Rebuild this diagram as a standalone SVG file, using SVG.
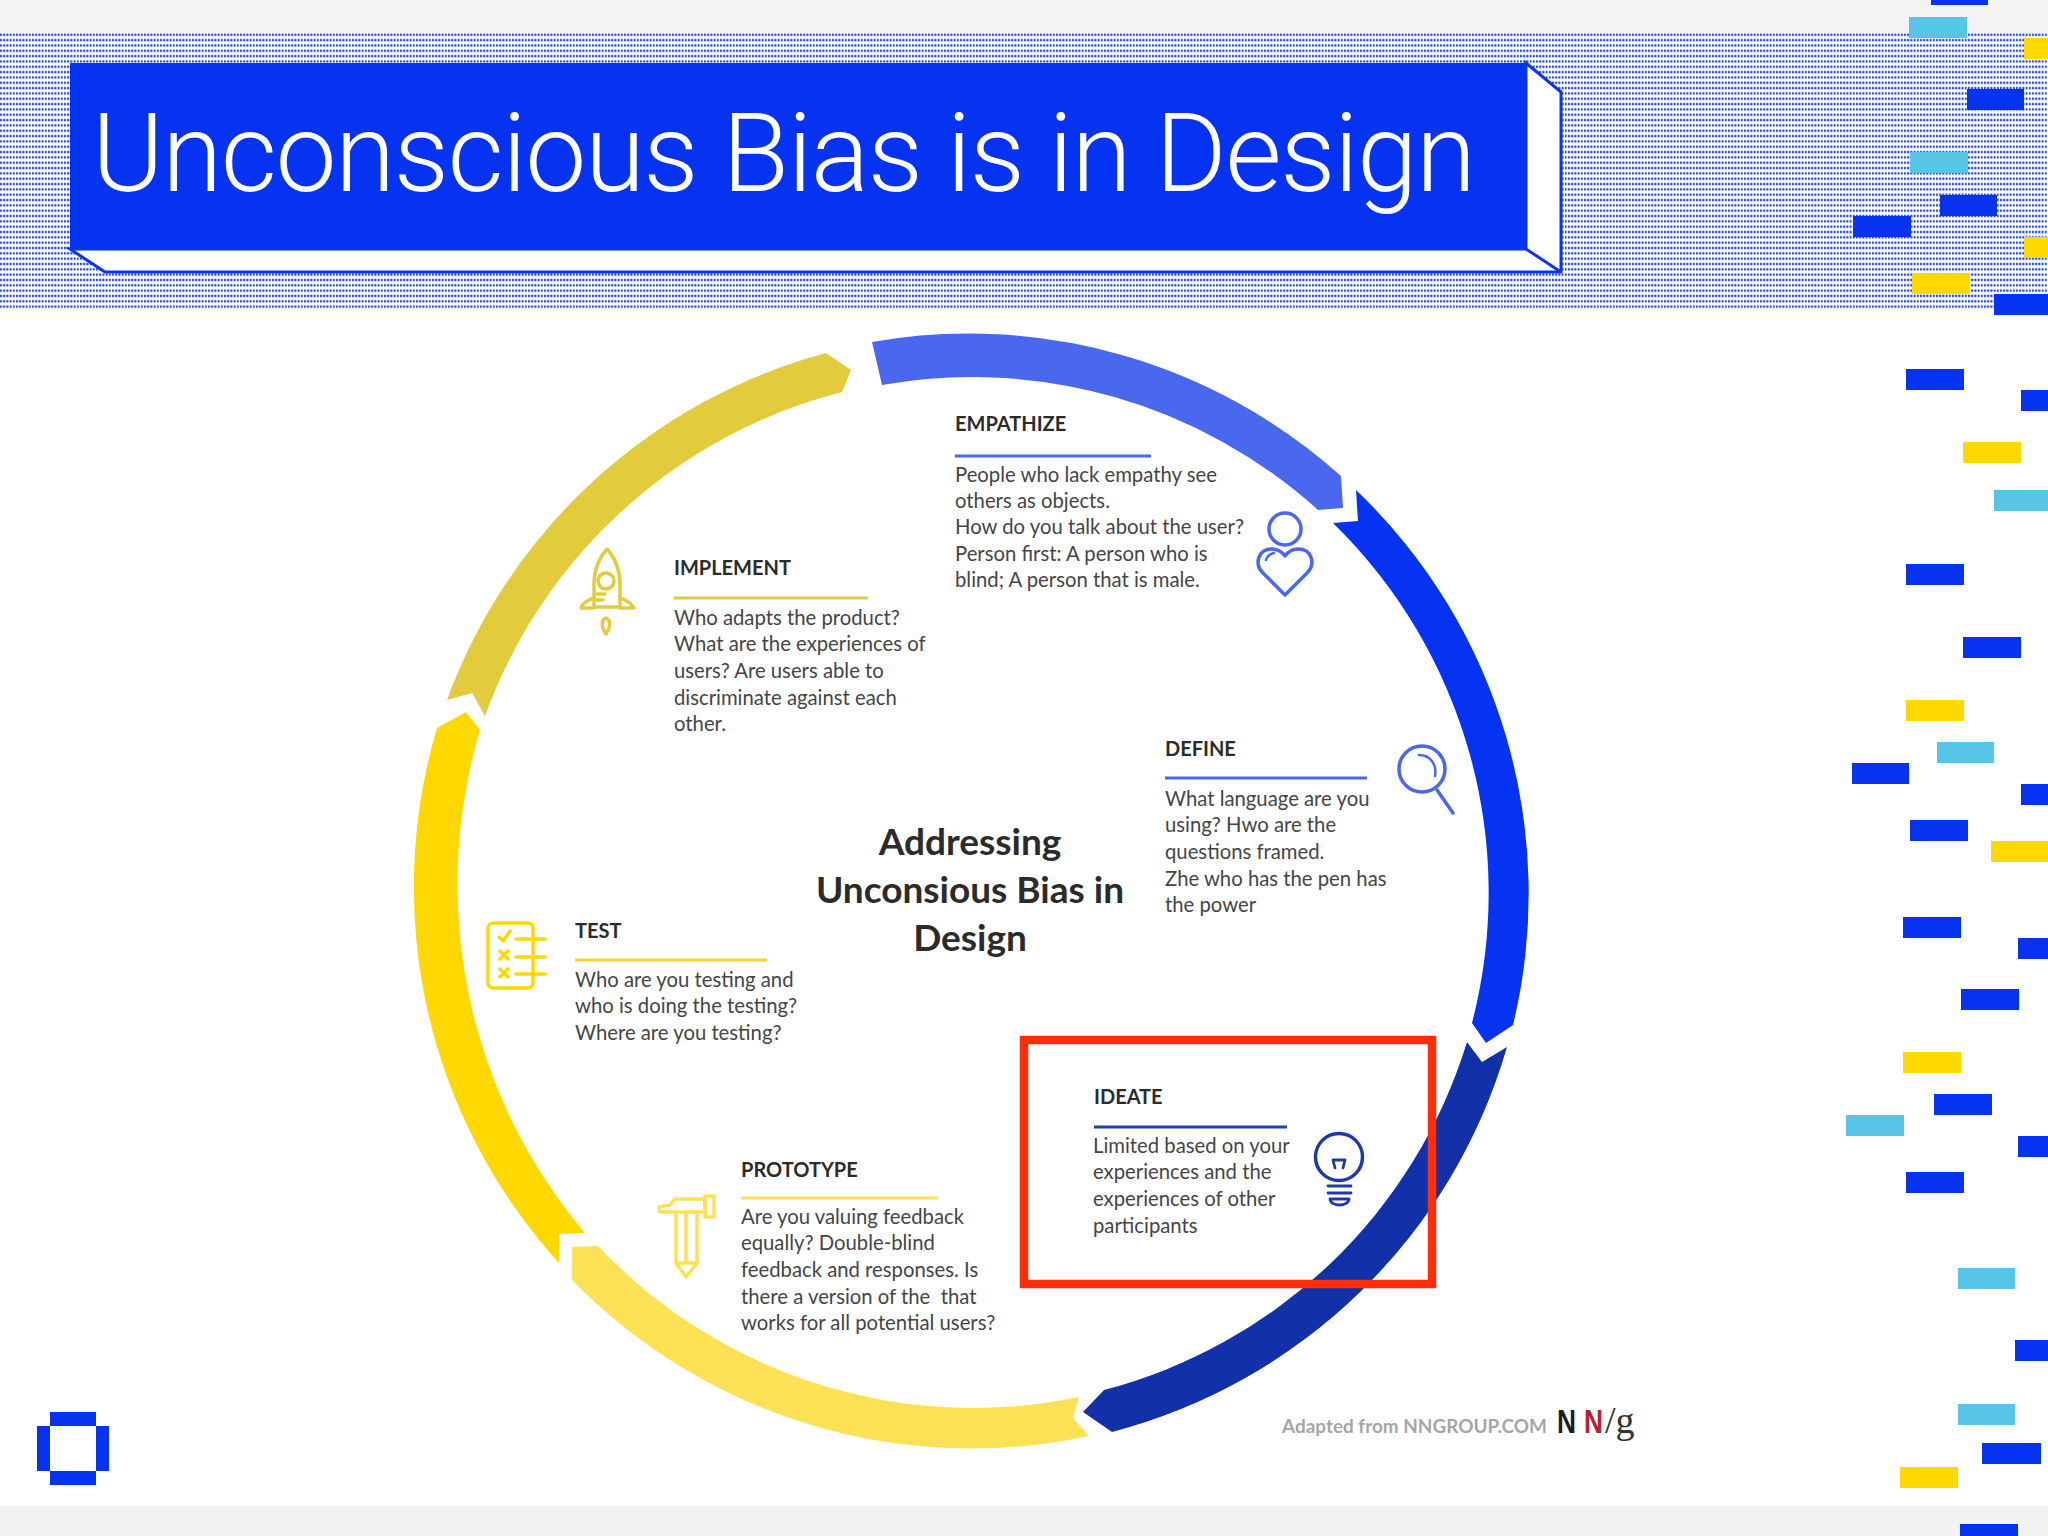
<svg xmlns="http://www.w3.org/2000/svg" width="2048" height="1536" viewBox="0 0 2048 1536">
<style>
.h{font-family:Lato,"Liberation Sans",sans-serif;font-weight:700;font-size:20px;fill:#2b2b2b}
.b{font-family:Lato,"Liberation Sans",sans-serif;font-size:20.3px;fill:#454545;white-space:pre}
.c{font-family:Lato,"Liberation Sans",sans-serif;font-weight:700;font-size:37px;fill:#2b2b2b;text-anchor:middle}
.i{fill:none;stroke-width:3.5;stroke-linecap:round;stroke-linejoin:round}
.bl{fill:#0633f2}.cy{fill:#57c5e8}.ye{fill:#ffd800}
</style>
<defs>
<pattern id="dots" x="0" y="33" width="3.2" height="5.33" patternUnits="userSpaceOnUse"><rect width="2" height="2.4" y="0.6" fill="#2446d4"/></pattern>
</defs>
<rect width="2048" height="1536" fill="#ffffff"/>
<rect width="2048" height="33" fill="#f3f3f3"/>
<rect y="1506" width="2048" height="30" fill="#f3f2f3"/>
<rect y="33" width="2048" height="276" fill="url(#dots)"/>
<g id="bars">
<rect class="bl" x="1931" y="0" width="57" height="5"/><rect class="cy" x="1909" y="17" width="58" height="21"/><rect class="ye" x="2024" y="38" width="24" height="21"/><rect class="bl" x="1967" y="89" width="57" height="21"/><rect class="cy" x="1910" y="152" width="58" height="21"/><rect class="bl" x="1940" y="195" width="57" height="21"/><rect class="bl" x="1853" y="216" width="58" height="21"/><rect class="ye" x="2024" y="237" width="24" height="21"/><rect class="ye" x="1912" y="273" width="58" height="21"/><rect class="bl" x="1994" y="294" width="54" height="21"/><rect class="bl" x="1906" y="369" width="58" height="21"/><rect class="bl" x="2021" y="390" width="27" height="21"/><rect class="ye" x="1963" y="442" width="58" height="21"/><rect class="cy" x="1994" y="490" width="54" height="21"/><rect class="bl" x="1906" y="564" width="58" height="21"/><rect class="bl" x="1963" y="637" width="58" height="21"/><rect class="ye" x="1906" y="700" width="58" height="21"/><rect class="cy" x="1937" y="742" width="57" height="21"/><rect class="bl" x="1852" y="763" width="57" height="21"/><rect class="bl" x="2021" y="784" width="27" height="21"/><rect class="bl" x="1910" y="820" width="58" height="21"/><rect class="ye" x="1991" y="841" width="57" height="21"/><rect class="bl" x="1903" y="917" width="58" height="21"/><rect class="bl" x="2018" y="938" width="30" height="21"/><rect class="bl" x="1961" y="989" width="58" height="21"/><rect class="ye" x="1903" y="1052" width="58" height="21"/><rect class="bl" x="1934" y="1094" width="58" height="21"/><rect class="cy" x="1846" y="1115" width="58" height="21"/><rect class="bl" x="2018" y="1136" width="30" height="21"/><rect class="bl" x="1906" y="1172" width="58" height="21"/><rect class="cy" x="1958" y="1268" width="57" height="21"/><rect class="bl" x="2015" y="1340" width="33" height="21"/><rect class="cy" x="1958" y="1404" width="57" height="21"/><rect class="bl" x="1982" y="1443" width="59" height="21"/><rect class="ye" x="1900" y="1467" width="58" height="21"/><rect class="bl" x="1960" y="1524" width="58" height="12"/>
</g>
<g id="title">
<path d="M70 249L105 272H1561V92L1526 63V249Z" fill="#fff" stroke="#0a35e8" stroke-width="3"/>
<path d="M1526 249L1561 272" stroke="#0a35e8" stroke-width="3"/>
<rect x="70" y="63" width="1456" height="186" fill="#0633f2"/>
<text x="92" y="191" font-family="Roboto,'Liberation Sans',sans-serif" font-weight="300" font-size="109" fill="#fff" textLength="1384" lengthAdjust="spacing">Unconscious Bias is in Design</text>
</g>
<g id="connectors">
<path id="arc-empathize" fill="#4a68ee" d="M872 342A558 558 0 0 1 1341 476L1343 508L1318 510A516 516 0 0 0 882 385Z"/>
<path id="arc-define" fill="#0633f2" d="M1356 490A558 558 0 0 1 1513 1025L1486 1043L1472 1023A517 517 0 0 0 1333 523L1358 521Z"/>
<path id="arc-ideate" fill="#1230a8" d="M1507 1047A558 558 0 0 1 1112 1432L1083 1412L1104 1390A516 516 0 0 0 1467 1042L1482 1062Z"/>
<path id="arc-prototype" fill="#fce155" d="M1089 1436A558 558 0 0 1 572 1280L572 1247L598 1246A516 516 0 0 0 1079 1397L1073 1418Z"/>
<path id="arc-test" fill="#ffd800" d="M559 1263A559 559 0 0 1 437 728L466 712L480 730A540 540 0 0 0 585 1233L559 1234Z"/>
<path id="arc-implement" fill="#e2cb3c" d="M447 700A558 558 0 0 1 826 353L851 370L842 392A516 516 0 0 0 485 716L472 693Z"/>
</g>
<g id="empathize">
<text class="h" x="955" y="431">EMPATHIZE</text>
<rect x="955" y="454.500" width="196" height="3" fill="#4a68ee"/>
<text class="b" x="955" y="481.500">People who lack empathy see</text>
<text class="b" x="955" y="507.500">others as objects.</text>
<text class="b" x="955" y="534">How do you talk about the user?</text>
<text class="b" x="955" y="560.500">Person first: A person who is</text>
<text class="b" x="955" y="587">blind; A person that is male.</text>
<g class="i" stroke="#4a68ee"><circle cx="1285" cy="529" r="16"/><path d="M1285 595L1263 573C1254 564 1258 549 1272 549C1278 549 1282 552 1285 556C1288 552 1292 549 1298 549C1312 549 1316 564 1307 573Z"/><path d="M1266 560C1267 556 1270 554 1274 553" stroke-width="2.500"/></g>
</g>
<g id="define">
<text class="h" x="1165" y="756">DEFINE</text>
<rect x="1165" y="776.500" width="202" height="3" fill="#4a68ee"/>
<text class="b" x="1165" y="805.500">What language are you</text>
<text class="b" x="1165" y="832">using? Hwo are the</text>
<text class="b" x="1165" y="858.500">questions framed.</text>
<text class="b" x="1165" y="885.500">Zhe who has the pen has</text>
<text class="b" x="1165" y="911.500">the power</text>
<g class="i" stroke="#4a68ee"><circle cx="1422" cy="769" r="23"/><path d="M1437 790L1453 813"/><path d="M1419 755C1430 755 1437 764 1435 776" stroke-width="2.500"/></g>
</g>
<g id="ideate">
<text class="h" x="1094" y="1104">IDEATE</text>
<rect x="1094" y="1125.500" width="193" height="3" fill="#2040b0"/>
<text class="b" x="1093" y="1152.500">Limited based on your</text>
<text class="b" x="1093" y="1179">experiences and the</text>
<text class="b" x="1093" y="1205.500">experiences of other</text>
<text class="b" x="1093" y="1232.500">participants</text>
<g class="i" stroke="#1f3aa8"><circle cx="1339" cy="1157" r="23.500"/><path d="M1333 1160L1345 1160L1343 1168M1335 1168L1333 1160M1328 1186H1351M1328 1193H1351M1330 1199C1331 1207 1348 1207 1349 1199Z" stroke-width="2.800"/></g>
</g>
<g id="prototype">
<text class="h" x="741" y="1177">PROTOTYPE</text>
<rect x="741" y="1196.500" width="197" height="3" fill="#fce155"/>
<text class="b" x="741" y="1223.500">Are you valuing feedback</text>
<text class="b" x="741" y="1250">equally? Double-blind</text>
<text class="b" x="741" y="1276.500">feedback and responses. Is</text>
<text class="b" x="741" y="1303.500">there a version of the  that</text>
<text class="b" x="741" y="1329.500">works for all potential users?</text>
<g class="i" stroke="#fce155"><path d="M659 1211V1207L670 1205L675 1199H705V1212H697H676H662Z"/><rect x="705" y="1196" width="9" height="21"/><path d="M676 1212V1263L686 1277L697 1263V1212M686 1212V1263M676 1263H697"/></g>
</g>
<g id="test">
<text class="h" x="575" y="938">TEST</text>
<rect x="575" y="958.500" width="192" height="3" fill="#f6d320"/>
<text class="b" x="575" y="986.500">Who are you testing and</text>
<text class="b" x="575" y="1013">who is doing the testing?</text>
<text class="b" x="575" y="1039.500">Where are you testing?</text>
<g class="i" stroke="#ffd800" stroke-width="4"><rect x="488" y="923" width="45" height="65" rx="5"/><path d="M516 939H545M516 957H545M516 974H545M499 937L503 941L510 931M500 951L508 959M508 951L500 959M500 969L508 977M508 969L500 977"/></g>
</g>
<g id="implement">
<text class="h" x="674" y="575">IMPLEMENT</text>
<rect x="674" y="596.500" width="194" height="3" fill="#e2cb3c"/>
<text class="b" x="674" y="624.500">Who adapts the product?</text>
<text class="b" x="674" y="651">What are the experiences of</text>
<text class="b" x="674" y="677.500">users? Are users able to</text>
<text class="b" x="674" y="704.500">discriminate against each</text>
<text class="b" x="674" y="730.500">other.</text>
<g class="i" stroke="#e2cb3c"><path d="M607 549C599 558 594 570 594 585V607H620V585C620 570 615 558 607 549Z"/><circle cx="606" cy="581" r="8"/><path d="M594 598C586 600 581 606 581 608H594M620 598C628 600 633 606 634 608H620M597 594H605M597 600H603"/><path d="M606 618C601 620 601 626 606 634C611 626 611 620 606 618Z"/></g>
</g>
<g id="center">
<text class="c" x="970" y="855">Addressing</text>
<text class="c" x="970" y="903">Unconsious Bias in</text>
<text class="c" x="970" y="951">Design</text>
</g>
<rect id="highlight" x="1024" y="1040" width="408" height="244" fill="none" stroke="#ff2d0a" stroke-width="8.500"/>
<g id="logo" fill="#0633f2">
<rect x="50" y="1412" width="46" height="14"/><rect x="37" y="1426" width="13" height="45"/><rect x="96" y="1426" width="13" height="45"/><rect x="50" y="1471" width="46" height="14"/>
</g>
<g id="credit">
<text x="1282" y="1433" font-family="Lato,'Liberation Sans',sans-serif" font-weight="700" font-size="19" fill="#a6a6a6" textLength="265" lengthAdjust="spacingAndGlyphs">Adapted from NNGROUP.COM</text>
<text x="1557" y="1433" font-family="'Liberation Sans',sans-serif" font-weight="700" font-size="33" fill="#1c1c1c" textLength="19" lengthAdjust="spacingAndGlyphs">N</text>
<text x="1584" y="1433" font-family="'Liberation Sans',sans-serif" font-weight="700" font-size="33" fill="#b8202c" textLength="19" lengthAdjust="spacingAndGlyphs">N</text>
<text x="1605" y="1433" font-family="'Liberation Serif',serif" font-size="38" fill="#333">/g</text>
</g>
</svg>
